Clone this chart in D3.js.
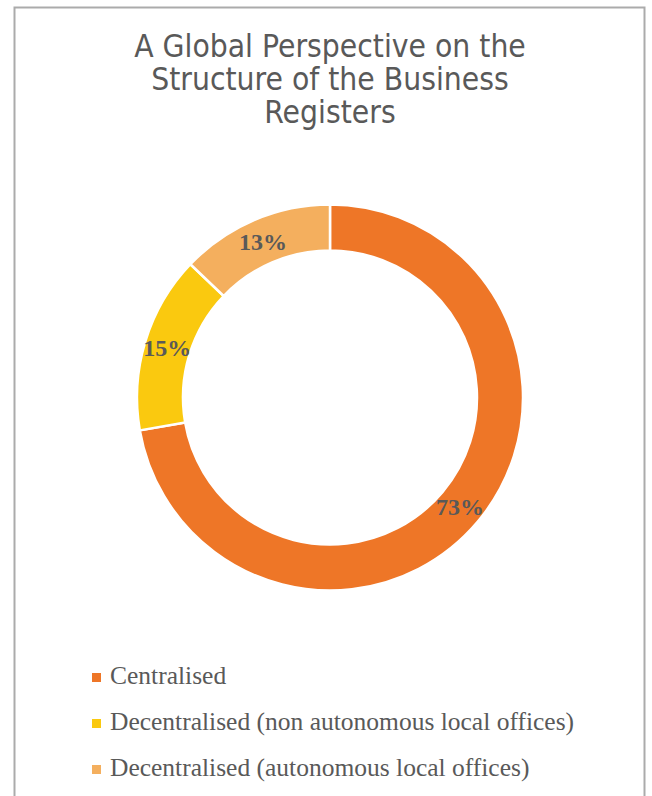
<!DOCTYPE html>
<html>
<head>
<meta charset="utf-8">
<script src="https://cdn.jsdelivr.net/npm/d3@7"></script>
<style>
  html, body { margin: 0; padding: 0; background: #fff; }
  svg { display: block; }
</style>
</head>
<body>
<svg id="chart" width="652" height="796"></svg>
<script>
// Structure of business registers, share of responses (%)
const categories = [
  "Centralised",
  "Decentralised (non autonomous local offices)",
  "Decentralised (autonomous local offices)"
];
const shares = [73, 15, 13];
const sliceColors = ["#EE7627", "#FAC90F", "#F4AF5E"];
const titleLines = [
  "A Global Perspective on the",
  "Structure of the Business",
  "Registers"
];

const svg = d3.select("#chart");
const W = 652, H = 796;
const textGray = "#595959";

// Chart frame
svg.append("rect")
  .attr("x", 14.5).attr("y", 7.5)
  .attr("width", 630).attr("height", H)
  .attr("fill", "#fff")
  .attr("stroke", "#ABABAB")
  .attr("stroke-width", 2);

// Title
const title = svg.append("text")
  .attr("x", 330)
  .attr("text-anchor", "middle")
  .attr("fill", textGray)
  .style("font-family", "'DejaVu Sans Condensed', 'DejaVu Sans', sans-serif")
  .style("font-size", "31.5px");
title.selectAll("tspan")
  .data(titleLines)
  .join("tspan")
  .attr("x", 330)
  .attr("y", (d, i) => 57 + i * 33)
  .text(d => d);

// Donut
const cx = 330, cy = 397.5;
const outerR = 193, innerR = 147;
const color = d3.scaleOrdinal().domain(categories).range(sliceColors);

const pie = d3.pie().sort(null).value(d => d.value);
const data = categories.map((c, i) => ({ name: c, value: shares[i] }));
const arcs = pie(data);

const arc = d3.arc().innerRadius(innerR).outerRadius(outerR);
const labelArc = d3.arc().innerRadius((innerR + outerR) / 2).outerRadius((innerR + outerR) / 2);

const g = svg.append("g").attr("transform", `translate(${cx},${cy})`);
g.selectAll("path.slice")
  .data(arcs)
  .join("path")
  .attr("class", "slice")
  .attr("d", arc)
  .attr("fill", d => color(d.data.name))
  .attr("stroke", "#fff")
  .attr("stroke-width", 2.5)
  .attr("stroke-linejoin", "miter");

g.selectAll("text.value")
  .data(arcs)
  .join("text")
  .attr("class", "value")
  .attr("transform", d => `translate(${labelArc.centroid(d)})`)
  .attr("text-anchor", "middle")
  .attr("dy", "0.35em")
  .attr("fill", textGray)
  .style("font-family", "'Liberation Serif', 'DejaVu Serif', serif")
  .style("font-weight", "bold")
  .style("font-size", "24px")
  .text(d => d.data.value + "%");

// Legend
const legend = svg.append("g").attr("transform", "translate(92, 0)");
const rows = legend.selectAll("g.row")
  .data(categories)
  .join("g")
  .attr("class", "row")
  .attr("transform", (d, i) => `translate(0, ${684 + i * 46})`);
rows.append("rect")
  .attr("x", 0).attr("y", -11)
  .attr("width", 9).attr("height", 9)
  .attr("fill", d => color(d));
rows.append("text")
  .attr("x", 18)
  .attr("y", 0)
  .attr("fill", textGray)
  .style("font-family", "'Liberation Serif', 'DejaVu Serif', serif")
  .style("font-size", "25.5px")
  .text(d => d);
</script>
</body>
</html>
